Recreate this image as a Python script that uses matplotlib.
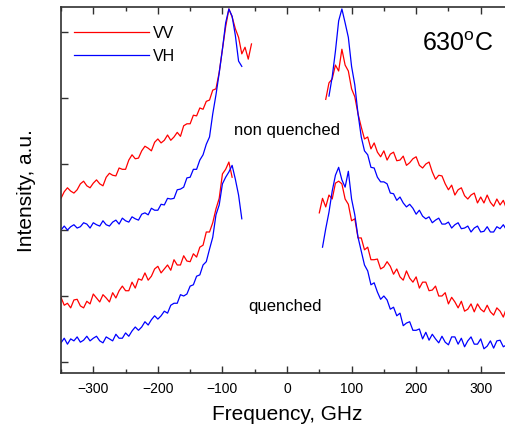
import numpy as np
import matplotlib
matplotlib.use("Agg")
import matplotlib.pyplot as plt

plt.rcParams['font.family'] = ['Liberation Sans', 'DejaVu Sans']

# Frequency grids (GHz) for the anti-Stokes (left) and Stokes (right) wings
freq_left = np.arange(-350, -50, 5)
freq_right = np.arange(50, 355, 5)

# Non-quenched sample, VV polarisation
nq_vv_left = [2.48, 2.58, 2.64, 2.59, 2.56, 2.61, 2.70, 2.74, 2.67, 2.64,
              2.71, 2.76, 2.70, 2.67, 2.80, 2.86, 2.83, 2.82, 2.94, 2.92,
              2.92, 3.06, 3.14, 3.08, 3.09, 3.20, 3.27, 3.24, 3.20, 3.33,
              3.38, 3.32, 3.36, 3.44, 3.36, 3.41, 3.48, 3.42, 3.58, 3.61,
              3.61, 3.74, 3.73, 3.85, 3.83, 3.95, 3.97, 4.12, 4.14, 4.39,
              4.74, 5.08, 5.35, 5.23, 5.05, 4.92, 4.67, 4.77, 4.59, 4.82]
nq_vv_right = [3.98, 4.23, 4.29, 4.50, 4.41, 4.74, 4.50, 4.41, 4.14, 4.02,
               3.76, 3.56, 3.38, 3.41, 3.23, 3.32, 3.18, 3.11, 3.20, 3.06,
               3.15, 3.18, 3.05, 3.06, 3.12, 2.98, 3.02, 3.08, 3.11, 2.98,
               2.94, 3.00, 3.03, 2.88, 2.77, 2.83, 2.82, 2.70, 2.61, 2.68,
               2.53, 2.61, 2.64, 2.52, 2.47, 2.53, 2.56, 2.41, 2.50, 2.41,
               2.53, 2.42, 2.36, 2.47, 2.38, 2.45, 2.32, 2.41, 2.36]

# Non-quenched sample, VH polarisation
nq_vh_left = [2.00, 2.06, 2.00, 2.05, 2.08, 2.03, 2.05, 2.11, 2.09, 2.03,
              2.11, 2.08, 2.06, 2.14, 2.08, 2.06, 2.12, 2.15, 2.09, 2.18,
              2.14, 2.12, 2.20, 2.17, 2.15, 2.24, 2.26, 2.23, 2.33, 2.30,
              2.30, 2.39, 2.38, 2.48, 2.47, 2.48, 2.61, 2.62, 2.65, 2.79,
              2.80, 2.92, 2.92, 3.06, 3.14, 3.30, 3.41, 3.76, 4.05, 4.38,
              4.74, 5.14, 5.35, 5.24, 4.95, 4.56, 4.48]
nq_vh_right = [4.03, 4.32, 4.71, 5.17, 5.35, 5.14, 4.92, 4.48, 4.20, 3.76,
               3.41, 3.20, 3.14, 2.95, 2.94, 2.80, 2.73, 2.73, 2.70, 2.56,
               2.55, 2.45, 2.50, 2.41, 2.35, 2.39, 2.33, 2.24, 2.30, 2.21,
               2.17, 2.20, 2.11, 2.15, 2.18, 2.09, 2.09, 2.12, 2.03, 2.08,
               2.11, 2.02, 2.03, 2.06, 1.97, 2.03, 2.06, 1.97, 1.98, 2.05,
               1.97, 1.97, 2.05, 2.02, 2.08, 2.00, 2.06, 2.02]

# Quenched sample, VV polarisation
q_vv_left = [0.98, 0.86, 0.89, 0.82, 0.94, 0.95, 0.85, 0.82, 0.92, 0.88,
             1.03, 0.97, 0.91, 1.02, 0.97, 0.91, 1.05, 0.97, 1.08, 1.15,
             1.08, 1.08, 1.21, 1.12, 1.26, 1.24, 1.35, 1.24, 1.30, 1.41,
             1.45, 1.35, 1.41, 1.47, 1.39, 1.55, 1.47, 1.47, 1.61, 1.53,
             1.52, 1.64, 1.59, 1.74, 1.77, 1.97, 1.97, 2.11, 2.32, 2.48,
             2.85, 2.92, 3.03, 2.80]
q_vv_right = [2.26, 2.48, 2.35, 2.53, 2.47, 2.71, 2.74, 2.70, 2.47, 2.39,
              2.14, 2.17, 1.88, 1.88, 1.70, 1.74, 1.55, 1.55, 1.56, 1.41,
              1.44, 1.52, 1.45, 1.33, 1.41, 1.29, 1.24, 1.38, 1.27, 1.21,
              1.29, 1.12, 1.21, 1.21, 1.08, 1.09, 1.15, 1.00, 1.00, 1.05,
              0.88, 0.98, 0.91, 0.82, 0.92, 0.77, 0.80, 0.88, 0.76, 0.88,
              0.80, 0.76, 0.86, 0.76, 0.71, 0.82, 0.77, 0.68, 0.82, 0.71,
              0.77]

# Quenched sample, VH polarisation
q_vh_left = [0.29, 0.36, 0.27, 0.35, 0.32, 0.38, 0.30, 0.33, 0.39, 0.32,
             0.36, 0.39, 0.32, 0.29, 0.38, 0.35, 0.32, 0.42, 0.36, 0.36,
             0.44, 0.39, 0.47, 0.53, 0.48, 0.53, 0.61, 0.56, 0.64, 0.70,
             0.65, 0.70, 0.77, 0.74, 0.86, 0.89, 0.89, 1.02, 1.00, 1.03,
             1.15, 1.17, 1.30, 1.32, 1.47, 1.52, 1.71, 1.89, 2.23, 2.38,
             2.70, 2.80, 2.88, 2.98, 2.77, 2.53, 2.17]
q_vh_right = [1.74, 2.02, 2.27, 2.59, 2.83, 2.95, 2.76, 2.65, 2.89, 2.47,
              2.23, 1.89, 1.68, 1.47, 1.38, 1.17, 1.20, 1.06, 0.95, 1.00,
              0.94, 0.80, 0.83, 0.70, 0.74, 0.55, 0.59, 0.61, 0.48, 0.48,
              0.50, 0.35, 0.45, 0.33, 0.42, 0.35, 0.29, 0.39, 0.30, 0.26,
              0.38, 0.38, 0.27, 0.36, 0.23, 0.32, 0.38, 0.27, 0.27, 0.35,
              0.20, 0.24, 0.32, 0.21, 0.32, 0.33, 0.23, 0.26, 0.32, 0.21]

VV_COLOR = '#ff0000'
VH_COLOR = '#0000ff'

fig = plt.figure(figsize=(5.06, 4.31), dpi=100)
ax = fig.add_axes([61 / 506, 57 / 431, 452 / 506, 366 / 431])


def draw(left, right, color, label=None):
    left = np.asarray(left)
    right = np.asarray(right)
    ax.plot(freq_left[:len(left)], left, color=color, lw=0.9, label=label)
    ax.plot(freq_right[len(freq_right) - len(right):], right, color=color, lw=0.9)


draw(nq_vv_left, nq_vv_right, VV_COLOR, 'VV')
draw(nq_vh_left, nq_vh_right, VH_COLOR, 'VH')
draw(q_vv_left, q_vv_right, VV_COLOR)
draw(q_vh_left, q_vh_right, VH_COLOR)

ax.set_xlim(-350, 350)
ax.set_ylim(-0.167, 5.38)
ax.set_xticks([-300, -200, -100, 0, 100, 200, 300])
ax.set_xticks(np.arange(-350, 351, 50), minor=True)
ax.set_yticks([0, 1, 2, 3, 4, 5])
ax.set_yticklabels([])
ax.tick_params(which='both', direction='in', top=True, right=True,
               color='#303030', width=1.0)
ax.tick_params(which='major', length=5, labelsize=10, pad=6)
ax.tick_params(which='minor', length=3)
ax.tick_params(axis='y', which='minor', left=False, right=False)
for s in ax.spines.values():
    s.set_color('#303030')
    s.set_linewidth(1.2)

ax.set_xlabel('Frequency, GHz', fontsize=15, labelpad=6)
ax.set_ylabel('Intensity, a.u.', fontsize=15, labelpad=12)

ax.text(0, 3.53, 'non quenched', fontsize=12, ha='center', va='center')
ax.text(-3, 0.86, 'quenched', fontsize=12, ha='center', va='center')
fig.text(422 / 506, 1 - 51 / 431, '630$^\\mathregular{o}$C', fontsize=18,
         ha='left', va='baseline')

leg = ax.legend(loc='upper left', bbox_to_anchor=(-0.011, 1.0), frameon=False,
                fontsize=11.5, handlelength=4.7, handletextpad=0.2,
                labelspacing=0.5, borderaxespad=0.75)

fig.savefig('out.png', dpi=100)
